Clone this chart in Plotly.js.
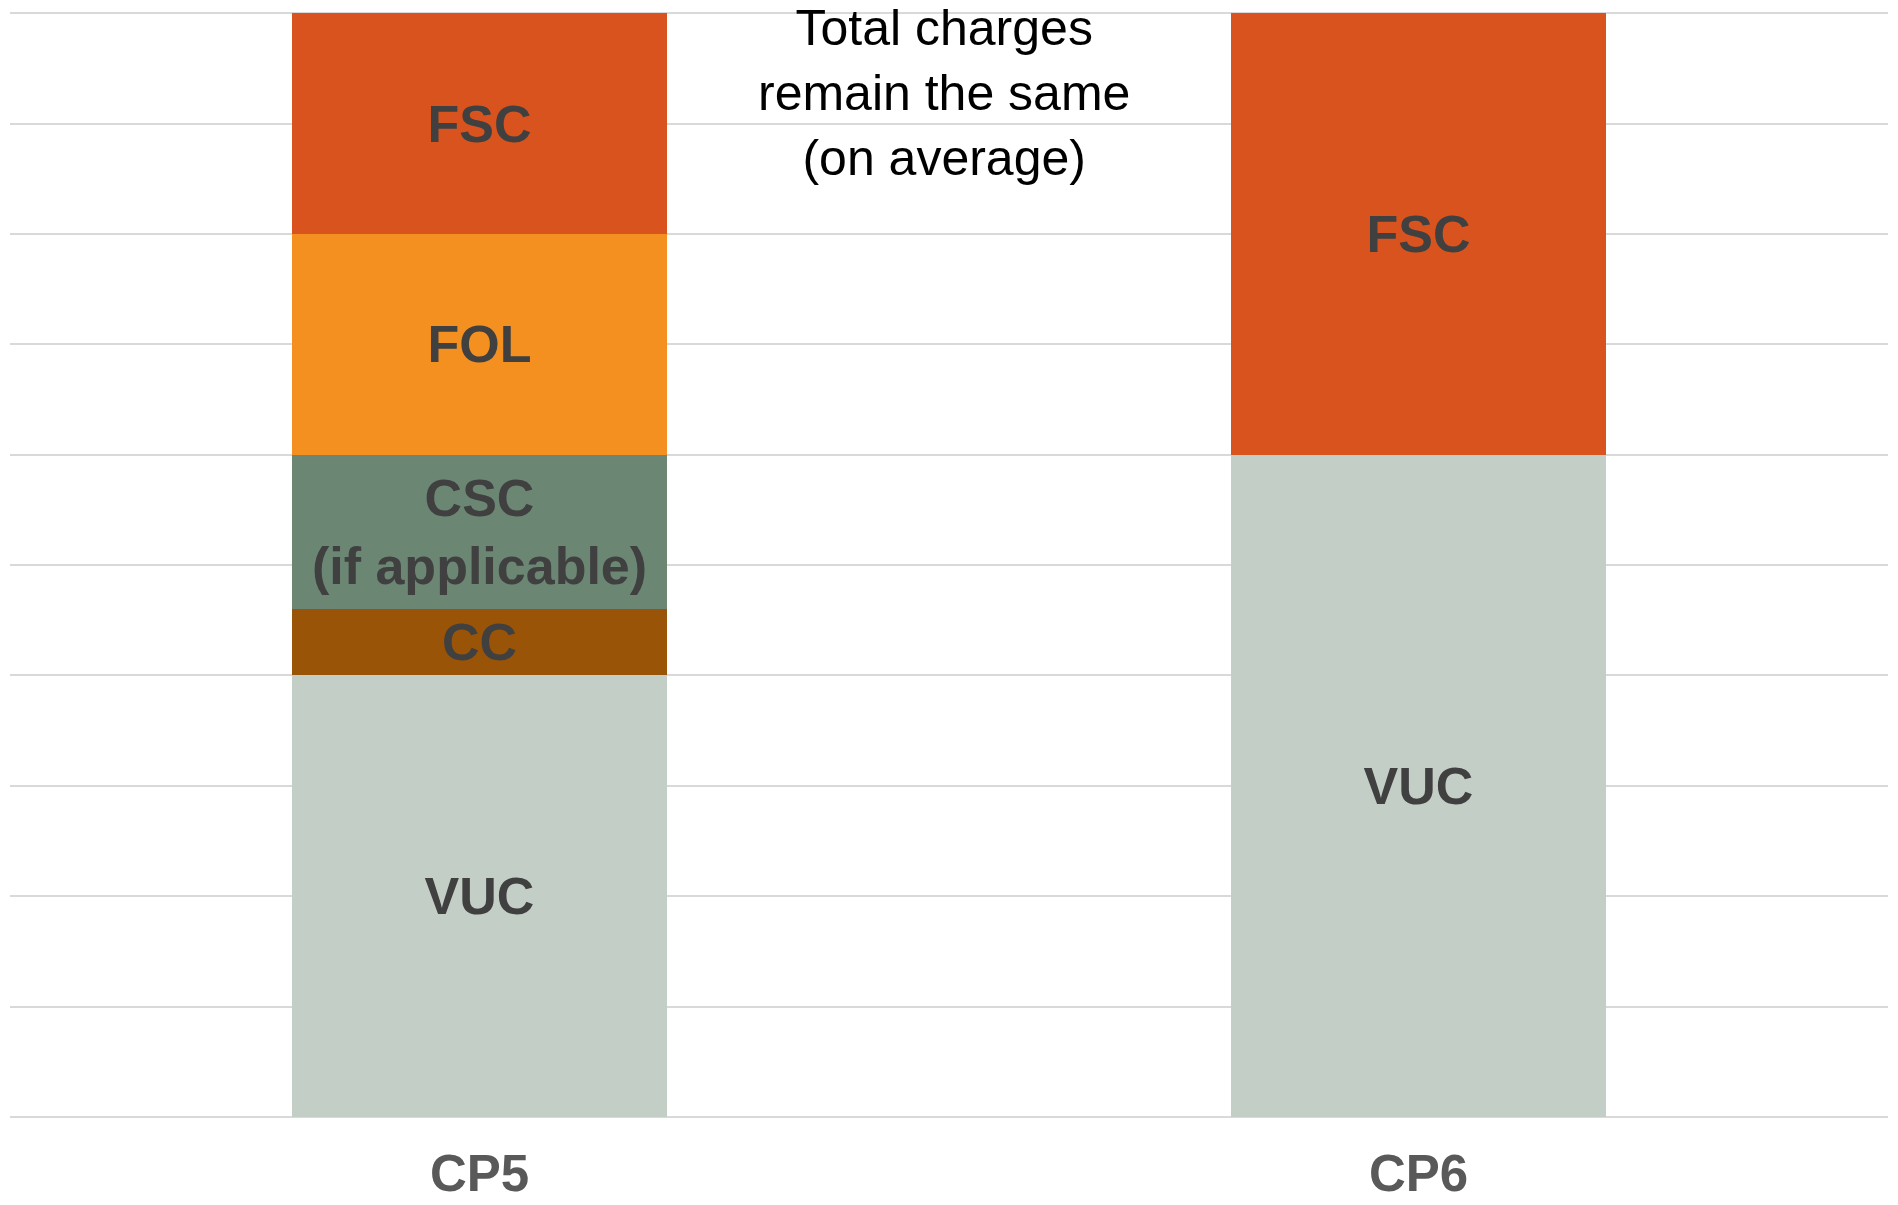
<!DOCTYPE html>
<html>
<head>
<meta charset="utf-8">
<script src="https://cdn.plot.ly/plotly-3.0.1.min.js"></script>
<style>html,body{margin:0;padding:0;background:#fff;}#chart{width:1898px;height:1205px;}</style>
</head>
<body>
<div id="chart"></div>
<script>
const categories = ["CP5", "CP6"];
const seriesNames = ["VUC", "CC", "CSC", "FOL", "FSC"];
const seriesLabels = ["VUC", "CC", "CSC<br>(if applicable)", "FOL", "FSC"];
const vucValues = [4, 6];
const ccValues = [0.6, null];
const cscValues = [1.4, null];
const folValues = [2, null];
const fscValues = [2, 4];
const seriesColors = ["#C3CEC6", "#9A5408", "#6B8673", "#F3901F", "#D9531E"];
const noteText = "Total charges<br>remain the same<br>(on average)";

const allValues = [vucValues, ccValues, cscValues, folValues, fscValues];

const traces = seriesNames.map((name, i) => ({
  type: "bar",
  name: name,
  x: categories,
  y: allValues[i],
  marker: { color: seriesColors[i], line: { width: 0 } },
  text: allValues[i].map(v => (v == null ? "" : seriesLabels[i])),
  textposition: "inside",
  insidetextanchor: "middle",
  constraintext: "none",
  textfont: { family: "Liberation Sans, Arial, sans-serif", size: 52, color: "#404040", weight: "bold" },
  hoverinfo: "none"
}));

const layout = {
  width: 1898,
  height: 1205,
  margin: { l: 10, r: 10, t: 11, b: 88 },
  paper_bgcolor: "#ffffff",
  plot_bgcolor: "#ffffff",
  barmode: "stack",
  bargap: 0.6,
  showlegend: false,
  font: { family: "Liberation Sans, Arial, sans-serif" },
  xaxis: {
    type: "category",
    showgrid: false,
    showline: false,
    zeroline: false,
    ticks: "",
    ticklabelstandoff: 22,
    tickfont: { family: "Liberation Sans, Arial, sans-serif", size: 51, color: "#595959", weight: "bold" }
  },
  yaxis: {
    range: [0, 10.02],
    tick0: 0,
    dtick: 1,
    showticklabels: false,
    showgrid: true,
    gridcolor: "#d9d9d9",
    gridwidth: 2,
    zeroline: true,
    zerolinecolor: "#d9d9d9",
    zerolinewidth: 2,
    showline: false,
    ticks: "",
    fixedrange: true
  },
  annotations: [{
    xref: "paper", yref: "paper",
    x: 0.4975, y: 0.926,
    xanchor: "center", yanchor: "middle",
    text: noteText,
    showarrow: false,
    align: "center",
    font: { family: "Liberation Sans, Arial, sans-serif", size: 50, color: "#000000" }
  }]
};

Plotly.newPlot("chart", traces, layout, { staticPlot: true, displayModeBar: false });
</script>
</body>
</html>
